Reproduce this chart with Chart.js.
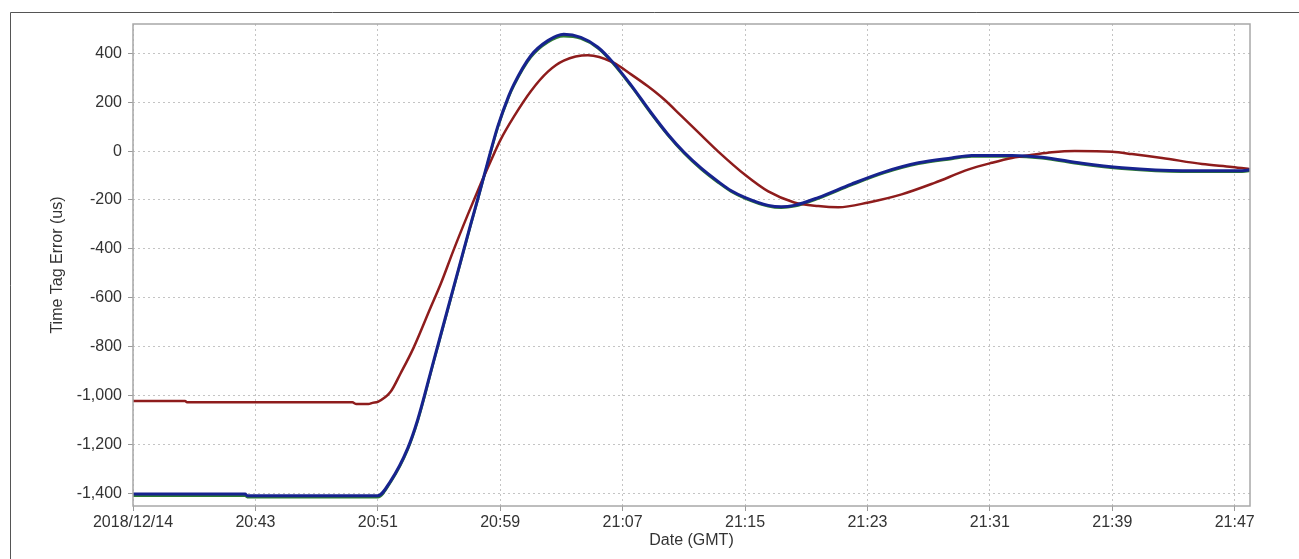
<!DOCTYPE html>
<html>
<head>
<meta charset="utf-8">
<script src="https://cdn.jsdelivr.net/npm/chart.js@4"></script>
<style>
  html, body { margin: 0; padding: 0; background: #fff; }
  #wrap { width: 1299px; height: 559px; }
</style>
</head>
<body>
<div id="wrap"><canvas id="c" width="1299" height="559"></canvas></div>
<script>
// ---- data ----
const startTime = "20:35:00";
const endTime = "21:48:00";
const xTickTimes = ["20:35:00","20:43:00","20:51:00","20:59:00","21:07:00","21:15:00","21:23:00","21:31:00","21:39:00","21:47:00"];
const xTickLabels = ["2018/12/14","20:43","20:51","20:59","21:07","21:15","21:23","21:31","21:39","21:47"];
const yTickValues = [-1400,-1200,-1000,-800,-600,-400,-200,0,200,400];
const yMin = -1452;
const yMax = 520;

const blueTimes = ["20:35:00","20:42:20","20:42:28","20:51:00","20:51:50","20:52:57","20:53:36","20:54:39","20:55:34","20:56:25","20:57:04","20:57:32","20:58:11","20:58:50","20:59:33","20:59:53","21:01:00","21:02:07","21:03:09","21:04:16","21:05:23","21:06:22","21:07:33","21:08:51","21:09:58","21:11:01","21:12:08","21:13:15","21:14:06","21:15:01","21:16:31","21:17:22","21:18:13","21:19:47","21:21:57","21:24:07","21:26:20","21:28:30","21:29:49","21:32:26","21:34:24","21:37:01","21:39:38","21:43:34","21:47:29","21:48:09"];
const blueValues = [-1403,-1403,-1410,-1410,-1350,-1216,-1100,-858,-646,-450,-300,-195,-45,100,225,272,390,452,478,465,425,363,270,158,68,-5,-70,-125,-162,-190,-222,-228,-222,-190,-135,-85,-48,-28,-18,-18,-25,-50,-68,-80,-80,-75];
const greenValues = [-1410,-1410,-1416,-1416,-1355,-1222,-1106,-863,-651,-454,-304,-199,-49,95,220,267,384,446,470,460,421,359,266,154,64,-9,-74,-129,-166,-194,-226,-232,-226,-194,-139,-89,-52,-32,-22,-22,-29,-54,-72,-84,-84,-79];

const redTimes = ["20:35:00","20:38:24","20:38:32","20:49:20","20:49:36","20:50:23","20:50:39","20:51:00","20:51:50","20:52:29","20:53:20","20:54:27","20:55:06","20:55:57","20:56:52","20:57:32","20:58:23","20:59:02","20:59:53","21:01:00","21:02:07","21:03:09","21:04:44","21:06:22","21:07:33","21:08:39","21:09:42","21:10:49","21:12:08","21:13:15","21:15:01","21:16:31","21:18:13","21:19:47","21:21:06","21:23:04","21:25:14","21:27:23","21:29:37","21:31:07","21:32:26","21:33:56","21:35:03","21:36:33","21:38:59","21:40:17","21:42:15","21:44:52","21:46:50","21:48:09"];
const redValues = [-1022,-1022,-1028,-1028,-1035,-1035,-1030,-1026,-985,-910,-805,-640,-545,-405,-262,-162,-40,48,140,245,325,370,392,363,314,265,212,145,65,-2,-98,-165,-210,-225,-230,-210,-177,-130,-75,-48,-28,-14,-5,0,-3,-12,-28,-53,-65,-75];

// ---- helpers ----
function toMin(t) {
  const p = t.split(":").map(Number);
  return p[0] * 60 + p[1] + (p[2] || 0) / 60;
}
const t0 = toMin(startTime);
function rel(t) { return toMin(t) - t0; }
function pts(times, vals) { return times.map((t, i) => ({ x: rel(t), y: vals[i] })); }

const FONT = "'Liberation Sans', Arial, sans-serif";
const TXT = '#333333';
const GRID = '#c4c4c4';

const framePlugin = {
  id: 'frame',
  beforeDraw(chart) {
    const ctx = chart.ctx;
    ctx.save();
    ctx.fillStyle = '#ffffff';
    ctx.fillRect(0, 0, chart.width, chart.height);
    ctx.restore();
  },
  afterDraw(chart) {
    const { ctx, chartArea: a } = chart;
    ctx.save();
    ctx.strokeStyle = '#a8a8a8';
    ctx.lineWidth = 1.5;
    ctx.strokeRect(a.left, a.top, a.right - a.left, a.bottom - a.top);
    ctx.strokeStyle = '#555555';
    ctx.lineWidth = 1;
    ctx.beginPath();
    ctx.moveTo(10.5, chart.height);
    ctx.lineTo(10.5, 12.5);
    ctx.lineTo(chart.width, 12.5);
    ctx.stroke();
    ctx.restore();
  }
};

new Chart(document.getElementById('c'), {
  type: 'line',
  data: {
    datasets: [
      { label: 'A', data: pts(blueTimes, blueValues), borderColor: '#17238f', borderWidth: 3, order: 1 },
      { label: 'C', data: pts(redTimes, redValues), borderColor: '#8e1c1c', borderWidth: 2.5, order: 2 },
      { label: 'B', data: pts(blueTimes, greenValues), borderColor: '#2f7d33', borderWidth: 2.5, order: 3 }
    ]
  },
  options: {
    responsive: false,
    animation: false,
    elements: {
      point: { radius: 0 },
      line: { cubicInterpolationMode: 'monotone', fill: false }
    },
    layout: { padding: { left: 0, top: 24, right: 49, bottom: 0 } },
    plugins: { legend: { display: false }, tooltip: { enabled: false }, title: { display: false } },
    scales: {
      x: {
        type: 'linear',
        min: 0,
        max: rel(endTime),
        afterFit(s) { s.height = 53; },
        afterBuildTicks(s) { s.ticks = xTickTimes.map(t => ({ value: rel(t) })); },
        ticks: {
          autoSkip: false, maxRotation: 0, minRotation: 0, padding: 2,
          color: TXT, font: { family: FONT, size: 16 },
          callback(v, i) { return xTickLabels[i]; }
        },
        grid: { color: GRID, lineWidth: 1, tickLength: 5, tickColor: '#9a9a9a', tickWidth: 1 },
        border: { display: false, dash: [2, 3] },
        title: { display: true, text: 'Date (GMT)', color: TXT, font: { family: FONT, size: 16 }, padding: { top: 0, bottom: 9 } }
      },
      y: {
        type: 'linear',
        min: yMin,
        max: yMax,
        afterFit(s) { s.width = 133; },
        afterBuildTicks(s) { s.ticks = yTickValues.map(v => ({ value: v })); },
        ticks: {
          padding: 6, color: TXT, font: { family: FONT, size: 16 },
          callback(v) { return Number(v).toLocaleString('en-US'); }
        },
        grid: { color: GRID, lineWidth: 1, tickLength: 5, tickColor: '#9a9a9a', tickWidth: 1 },
        border: { display: false, dash: [2, 3] },
        title: { display: true, text: 'Time Tag Error (us)', color: TXT, font: { family: FONT, size: 16 }, padding: { top: 48, bottom: 0 } }
      }
    }
  },
  plugins: [framePlugin]
});
</script>
</body>
</html>
